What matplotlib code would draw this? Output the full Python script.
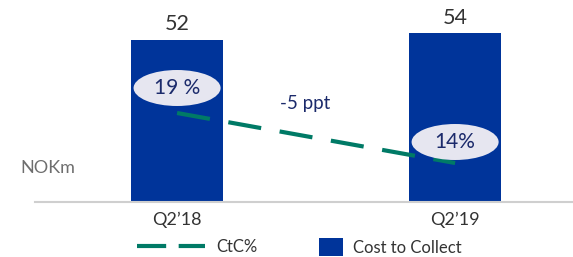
import matplotlib
matplotlib.use("Agg")
import matplotlib.pyplot as plt
from matplotlib.patches import Ellipse, Patch
from matplotlib.lines import Line2D

categories = ["Q2\u201918", "Q2\u201919"]
cost_to_collect = [52, 54]
ctc_pct = [19, 14]
ctc_labels = ["19 %", "14%"]
change_label = "-5 ppt"
unit_label = "NOKm"

bar_color = "#00349A"
line_color = "#007A66"
ell_color = "#E6E6F0"
navy = "#1B2A6B"

plt.rcParams['font.family'] = ['Lato', 'DejaVu Sans']

W, H = 573, 257
fig = plt.figure(figsize=(W / 100, H / 100), dpi=100)
ax = fig.add_axes([35 / W, (H - 202) / H, (W - 35) / W, 202 / H])
ax2 = ax.twinx()

x = list(range(len(categories)))
ax.bar(x, cost_to_collect, width=0.331, color=bar_color, zorder=2)
ax.set_xlim(-0.511, 1.424)
ax.set_ylim(0, 64.7)
for xi, v in zip(x, cost_to_collect):
    ax.annotate(str(v), (xi, v), xytext=(0, 4), textcoords="offset points",
                ha="center", va="bottom", fontsize=15.5, color="#333333")

ax2.set_ylim(10.1, 30.3)
ax2.plot(x, ctc_pct, color=line_color, lw=3, dashes=(8, 4.5), zorder=3,
         solid_capstyle="butt")
offsets = [2.5, 2.1]
for xi, v, lab, off in zip(x, ctc_pct, ctc_labels, offsets):
    e = Ellipse((xi, v + off), width=0.313, height=3.6, facecolor=ell_color,
                edgecolor="none", zorder=4)
    ax2.add_patch(e)
    ax2.text(xi, v + off, lab, ha="center", va="center", fontsize=15,
             color=navy, zorder=5)
ax2.text(0.46, 20.0, change_label, ha="center", va="center", fontsize=13.5,
         color=navy)

for a in (ax, ax2):
    for s in ["top", "right", "left"]:
        a.spines[s].set_visible(False)
    a.set_yticks([])
ax2.spines["bottom"].set_visible(False)
ax.spines["bottom"].set_color("#CFCFCF")
ax.spines["bottom"].set_linewidth(1.5)
ax.set_xticks(x, categories)
ax.tick_params(axis="x", length=0, pad=7, labelsize=13, labelcolor="#333333")

fig.text(20 / W, 1 - 168 / H, unit_label, ha="left", va="center",
         fontsize=13, color="#6E6E6E")

leg1 = fig.legend([Line2D([], [], color=line_color, lw=3, dashes=(7, 3))],
                  ["CtC%"], frameon=False, loc="center left",
                  bbox_to_anchor=(137 / W, 1 - 247 / H), fontsize=12,
                  handlelength=4.1, handletextpad=0.66, borderpad=0,
                  borderaxespad=0, labelcolor="#333333")
leg2 = fig.legend([Patch(facecolor=bar_color)], ["Cost to Collect"],
                  frameon=False, loc="center left",
                  bbox_to_anchor=(319 / W, 1 - 247 / H), fontsize=12,
                  handlelength=1.45, handleheight=1.2, handletextpad=0.6,
                  borderpad=0, borderaxespad=0, labelcolor="#333333")

fig.savefig("out.png", dpi=100)
